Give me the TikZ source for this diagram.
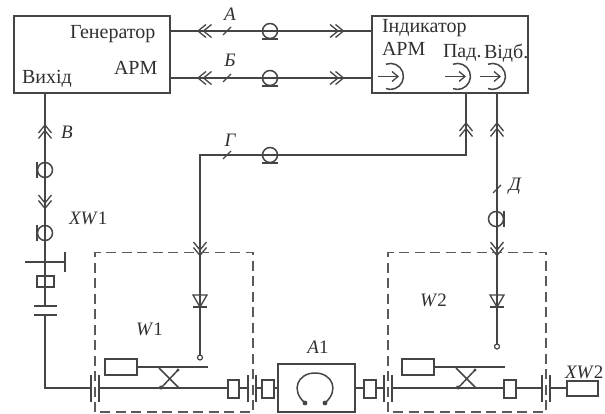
\documentclass[tikz,border=0pt]{standalone}
\usepackage{fontspec}
\setmainfont{Liberation Serif}
\newcommand{\chevs}[3]{\begin{scope}[shift={(#1,#2)},rotate=#3]
\draw[ln,line width=1.3pt] (-8,-6.5) -- (0,0) -- (-8,6.5) (-2.5,-6.5) -- (5.5,0) -- (-2.5,6.5);\end{scope}}
\newcommand{\coil}[3]{\begin{scope}[shift={(#1,#2)},rotate=#3]
\draw[ln] (0,0) circle (7.5); \draw[ln] (-8,8) -- (8,8);\end{scope}}
\newcommand{\tick}[2]{\draw[ln,line width=1.3pt] (#1-4,#2+4) -- (#1+4,#2-4);}
\newcommand{\recv}[2]{\begin{scope}[shift={(#1,#2)}]
\draw[ln] (-17,0) -- (3,0); \draw[ln,line width=1.3pt] (-3,-5) -- (3,0) -- (-3,5);
\draw[ln] (-9,-12.3) arc (-110:110:13);\end{scope}}
\newcommand{\diode}[2]{\begin{scope}[shift={(#1,#2)}]
\draw[ln,line width=1.3pt] (-7,-12) -- (7,-12) -- (0,0) -- cycle; \draw[ln] (-7,0) -- (7,0);\end{scope}}
\newcommand{\flange}[2]{\draw[ln] (#1,375) -- (#1,402) (#2,375) -- (#2,402);}
\newcommand{\xcross}[1]{\begin{scope}[shift={(#1,0)}]
\draw[ln] (0,368) -- (20,388) (2,388) -- (19,370);
\fill[lc] (2,387.5) circle (2) (19,370) circle (1.7);\end{scope}}
\tikzset{
  ln/.style={draw=lc,line width=1.5pt},
  box/.style={draw=lc,line width=1.5pt,rectangle,inner sep=0pt,outer sep=0pt},
  dbox/.style={draw=dc,line width=1.5pt,dash pattern=on 10pt off 5.5pt},
  lab/.style={inner sep=0pt,outer sep=0pt,text=tc,font=\fontsize{20}{22}\selectfont},
  ilab/.style={lab,font=\fontsize{19}{21}\selectfont\itshape},
  mlab/.style={lab,font=\fontsize{19}{21}\selectfont},
  pin/.style={draw=lc,line width=1.2pt,circle,fill=white,minimum size=5pt,inner sep=0pt,outer sep=0pt}
}
\definecolor{lc}{HTML}{454545}
\definecolor{dc}{HTML}{5A5A5A}
\definecolor{tc}{HTML}{303030}
\begin{document}
\begin{tikzpicture}[x=1pt,y=-1pt]
\useasboundingbox (0,0) rectangle (605,414);
% main boxes
\node[box,minimum width=156pt,minimum height=77pt] (gen) at (92,54.5) {};
\node[box,minimum width=156pt,minimum height=77pt] (ind) at (450,54.5) {};
\node[box,minimum width=77pt,minimum height=48pt] (a1) at (316.5,388) {};
% rail helpers
\coordinate (ya) at (0,31);
\coordinate (yb) at (0,78);
\coordinate (rail) at (0,388);
\coordinate (corner) at (45,388);
\coordinate (gcorner) at (200,155);
\coordinate (pad) at (466,155);
% small rectangles
\node[box,minimum width=17pt,minimum height=11pt] (xw1r) at (45.5,281.5) {};
\node[box,minimum width=32pt,minimum height=16pt] (load1) at (121,367) {};
\node[box,minimum width=32pt,minimum height=16pt] (load2) at (418,367) {};
\node[box,minimum width=11pt,minimum height=18pt] (r1) at (233.5,389) {};
\node[box,minimum width=12pt,minimum height=18pt] (r2) at (268,389) {};
\node[box,minimum width=12pt,minimum height=18pt] (r3) at (370,389) {};
\node[box,minimum width=12pt,minimum height=18pt] (r4) at (510,389) {};
\node[box,minimum width=31pt,minimum height=15pt] (xw2r) at (582.5,388.5) {};
\node[pin] (p1) at (200,357.5) {};
\node[pin] (p2) at (497,346.5) {};
% connectors
\draw[ln] (gen.east |- ya) -- (ind.west |- ya);
\draw[ln] (gen.east |- yb) -- (ind.west |- yb);
\draw[ln] (45,93) -- (45,306);
\draw[ln] (45,315) -- (corner) -- (91,388);
\draw[ln] (99,388) -- (r1.west |- rail);
\draw[ln] (r1.east |- rail) -- (248,388);
\draw[ln] (256,388) -- (r2.west |- rail);
\draw[ln] (r2.east |- rail) -- (a1.west |- rail);
\draw[ln] (a1.east |- rail) -- (r3.west |- rail);
\draw[ln] (r3.east |- rail) -- (384,388);
\draw[ln] (392,388) -- (r4.west |- rail);
\draw[ln] (r4.east |- rail) -- (542,388);
\draw[ln] (550,388) -- (xw2r.west |- rail);
\draw[ln] (ind.south -| pad) -- (pad) -- (gcorner) -- (p1.north);
\draw[ln] (497,93) -- (p2.north);
\draw[ln] (load1.east) -- (208,367);
\draw[ln] (load2.east) -- (505,367);
% XW1 connector
\draw[ln] (25,262) -- (65,262); \draw[ln] (65,252) -- (65,272);
\draw[ln] (34,306) -- (57,306) (34,315) -- (57,315);
% chevrons
\chevs{203.5}{31}{180} \chevs{203.5}{78}{180}
\chevs{338}{31}{0} \chevs{338}{78}{0}
\chevs{45}{130.5}{90} \chevs{466}{128.5}{90} \chevs{497}{128.5}{90}
\chevs{45}{203}{-90} \chevs{200}{250}{-90} \chevs{497}{250}{-90}
% coax loops
\coil{270}{31}{0} \coil{270}{78}{0} \coil{270}{155}{0}
\coil{45}{170}{-90} \coil{45}{233}{-90} \coil{496}{219}{90}
% ticks
\tick{227}{31} \tick{227}{78} \tick{227}{155} \tick{497}{189}
% receivers
\recv{395}{76.5} \recv{462}{76.5} \recv{497}{76.5}
% dashed boxes
\draw[dbox] (95,412) -- (95,252.5) -- (253,252.5) -- (253,412) -- cycle;
\draw[dbox] (388,412) -- (388,252.5) -- (546,252.5) -- (546,412) -- cycle;
% diodes
\diode{200}{307} \diode{497}{307}
% flanges
\flange{91}{99} \flange{248}{256} \flange{384}{392} \flange{542}{550}
% couplers
\xcross{159} \xcross{456}
% A1 loop
\draw[ln] (305,403) .. controls (290,390) and (298,373) .. (315,373) .. controls (332,373) and (340,390) .. (325,403);
\fill[lc] (305,403) circle (2.4) (325,403) circle (2.4);
% labels
\node[lab,anchor=west] (t1) at (70,34) {Генератор};
\node[lab,anchor=west] (t2) at (114,68) {АРМ};
\node[lab,anchor=west] (t3) at (22,79) {Вихід};
\node[lab,anchor=west] (t4) at (382,28) {Індикатор};
\node[lab,anchor=west] (t5) at (382,49) {АРМ};
\node[lab,anchor=west] (t6) at (443,53) {Пад.};
\node[lab,anchor=west] (t7) at (484,53) {Відб.};
\node[ilab] (la) at (230,14) {А};
\node[ilab] (lb) at (230,60) {Б};
\node[ilab] (lv) at (67,132) {В};
\node[ilab] (lg) at (230,140) {Г};
\node[ilab] (ld) at (515,186) {Д};
\node[mlab,anchor=west] (xw1) at (69,218) {\textit{XW}1};
\node[mlab,anchor=west] (w1) at (136,329) {\textit{W}1};
\node[mlab,anchor=west] (w2) at (420,300) {\textit{W}2};
\node[mlab] (la1) at (318,347) {\textit{A}1};
\node[mlab,anchor=west] (xw2) at (565,372) {\textit{XW}2};
\end{tikzpicture}
\end{document}
